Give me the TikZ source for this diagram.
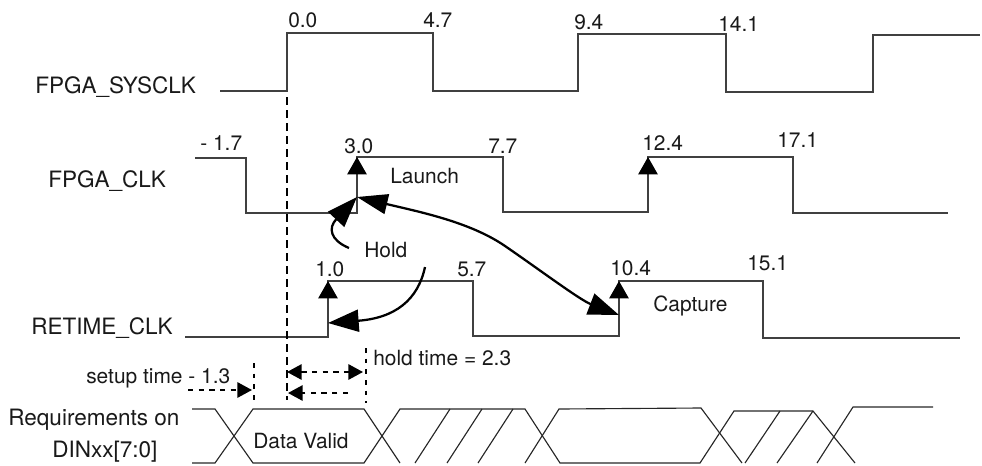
\documentclass[tikz,border=0pt]{standalone}
\usepackage{fontspec}
\setmainfont{TeX Gyre Heros}
\usetikzlibrary{arrows.meta}
\begin{document}
\begin{tikzpicture}[x=0.75pt,y=-0.75pt,
  sig/.style={font=\fontsize{16.9}{20}\selectfont, inner sep=0pt, anchor=base west, text=black!90},
  lab/.style={font=\fontsize{15.7}{18}\selectfont, inner sep=0pt, anchor=base west, text=black!90},
  clk/.style={line width=1.1pt, draw=black!75, line join=miter},
  edgetip/.style={line width=1.1pt, draw=black!75, -{Triangle[length=13pt,width=14.5pt,color=black]}},
  bigtip/.style={line width=1.7pt, draw=black, -{Triangle[length=23pt,width=16.5pt]}},
  bigboth/.style={line width=1.7pt, draw=black, {Triangle[length=23pt,width=15pt]}-{Triangle[length=23pt,width=16.5pt]}},
  refline/.style={line width=2.2pt, draw=black, dash pattern=on 6pt off 3.75pt},
  tickline/.style={line width=1.6pt, draw=black, dash pattern=on 3.5pt off 4.5pt},
  dimarrow/.style={line width=1.5pt, draw=black, dash pattern=on 4pt off 4pt},
  dimtip/.style={-{Triangle[length=11pt,width=11.5pt]}},
  dimboth/.style={{Triangle[length=11pt,width=11.5pt]}-{Triangle[length=11pt,width=11.5pt]}},
  data/.style={line width=0.85pt, draw=black!85, line join=miter}]
\useasboundingbox (0,0) rectangle (982,465);

% signal names
\node[sig] (nsys) at (35,93) {FPGA\_SYSCLK};
\node[sig] (nclk) at (48,187) {FPGA\_CLK};
\node[sig] (nret) at (31,334) {RETIME\_CLK};
\node[sig] (nreq) at (8,425) {Requirements on};
\node[sig] (ndin) at (52,457) {DINxx[7:0]};

% FPGA_SYSCLK
\draw[clk] (220,91) -- (287,91) -- (287,33) -- (433,33) -- (433,91) -- (578,91) -- (578,34)
  -- (726,34) -- (726,92) -- (873,92) -- (873,35) -- (980,35);
\node[lab] (t00) at (288,27) {0.0};
\node[lab] (t47) at (423,27) {4.7};
\node[lab] (t94) at (574,29) {9.4};
\node[lab] (t141) at (718,31) {14.1};

% FPGA_CLK
\draw[clk] (195,158) -- (246,158) -- (246,213) -- (357,213) -- (357,157) -- (503,157) -- (503,212)
  -- (648,212) -- (648,157) -- (793,157) -- (793,213) -- (948,213);
\coordinate (fr1b) at (357,200);
\coordinate (fr1) at (357,157);
\coordinate (fr2b) at (648,195);
\coordinate (fr2) at (648,157);
\draw[edgetip] (fr1b) -- (fr1);
\draw[edgetip] (fr2b) -- (fr2);
\node[lab] (tm17) at (200,150) {- 1.7};
\node[lab] (t30) at (344,153) {3.0};
\node[lab] (t77) at (488,153) {7.7};
\node[lab] (t124) at (642,150) {12.4};
\node[lab] (t171) at (777,147) {17.1};
\node[lab] (launch) at (390,183) {Launch};

% RETIME_CLK
\draw[clk] (185,337) -- (328,337) -- (328,281) -- (473,281) -- (473,336) -- (619,336) -- (619,281)
  -- (763,281) -- (763,338) -- (960,338);
\coordinate (rr1b) at (328,320);
\coordinate (rr1) at (328,281);
\coordinate (rr2b) at (619,315);
\coordinate (rr2) at (619,281);
\draw[edgetip] (rr1b) -- (rr1);
\draw[edgetip] (rr2b) -- (rr2);
\node[lab] (t10) at (315,276) {1.0};
\node[lab] (t57) at (457,276) {5.7};
\node[lab] (t104) at (610,275) {10.4};
\node[lab] (t151) at (747,270) {15.1};
\node[lab] (capture) at (653,311) {Capture};
\node[lab] (hold) at (364,257) {Hold};

% curved arrows
\coordinate (lpt) at (357,197);
\coordinate (cpt) at (619,315);
\coordinate (hpt) at (328,323);
\coordinate (h1s) at (349,248);
\coordinate (h2s) at (425,267);
\draw[bigtip] (h1s) .. controls (330,240) and (328,228) .. (lpt);
\draw[bigtip] (h2s) .. controls (418,300) and (395,318) .. (hpt);
\draw[bigboth] (lpt) .. controls (420,212) and (470,222) .. (505,246)
  .. controls (540,270) and (580,300) .. (cpt);

% reference dashed line
\coordinate (refTop) at (287,97);
\coordinate (refBot) at (287,400);
\draw[refline] (refTop) -- (refBot);

% hold time
\coordinate (htTop) at (366,348);
\coordinate (htBot) at (366,403);
\draw[tickline] (htTop) -- (htBot);
\coordinate (ha1) at (287,372);
\coordinate (ha2) at (363,372);
\draw[dimarrow, dimboth] (ha1) -- (ha2);
\coordinate (hb1) at (348,393);
\coordinate (hb2) at (288,393);
\draw[dimarrow, dimtip] (hb1) -- (hb2);
\node[lab] (holdtime) at (373,365) {hold time = 2.3};

% setup time
\coordinate (stTop) at (254,363);
\coordinate (stBot) at (254,405);
\draw[tickline] (stTop) -- (stBot);
\coordinate (sa1) at (188,390);
\coordinate (sa2) at (252,390);
\draw[dimarrow, dimtip] (sa1) -- (sa2);
\node[lab] (setup) at (86,383) {setup time - 1.3};

% data waveform
\draw[data] (192,409) -- (215,409) -- (253,463) -- (364,463) -- (400,409) -- (525,409) -- (560,463)
  -- (700,463) -- (734,411) -- (813,411) -- (855,463);
\draw[data] (192,463) -- (215,463) -- (253,409) -- (364,409) -- (400,463);
\draw[data] (525,463) -- (559,409) -- (701,408) -- (742,463);
\draw[data] (817,463) -- (853,407) -- (933,407);
\draw[data] (415,463) -- (450,409);
\draw[data] (447,463) -- (482,409);
\draw[data] (478,463) -- (513,409);
\draw[data] (745,463) -- (780,411);
\draw[data] (777,463) -- (813,411);
\node[lab] (valid) at (253,448) {Data Valid};
\end{tikzpicture}
\end{document}
